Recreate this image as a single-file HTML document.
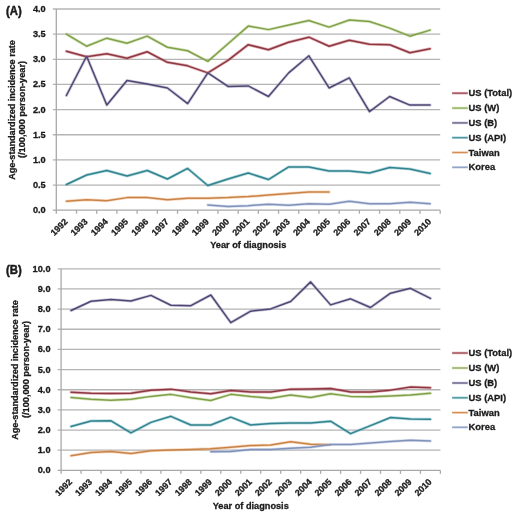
<!DOCTYPE html>
<html><head><meta charset="utf-8"><style>
html,body{margin:0;padding:0;background:#fff;width:520px;height:520px;overflow:hidden}
svg{display:block}
#w{width:520px;height:520px;will-change:transform}
text{stroke:#1a1a1a;stroke-width:0.3px;paint-order:stroke}
.t{font-family:"Liberation Sans",sans-serif;font-weight:bold;font-size:9.2px;fill:#1a1a1a}
.lab{stroke-width:0.45px;font-family:"Liberation Sans",sans-serif;font-weight:bold;font-size:11.3px;fill:#1a1a1a}
</style></head><body>
<div id="w"><svg width="520" height="520" viewBox="0 0 520 520">
<rect width="520" height="520" fill="#fff"/>
<line x1="52.80" y1="185.05" x2="440.20" y2="185.05" stroke="#B4B4B4" stroke-width="1.3"/>
<line x1="52.80" y1="159.90" x2="440.20" y2="159.90" stroke="#B4B4B4" stroke-width="1.3"/>
<line x1="52.80" y1="134.75" x2="440.20" y2="134.75" stroke="#B4B4B4" stroke-width="1.3"/>
<line x1="52.80" y1="109.60" x2="440.20" y2="109.60" stroke="#B4B4B4" stroke-width="1.3"/>
<line x1="52.80" y1="84.45" x2="440.20" y2="84.45" stroke="#B4B4B4" stroke-width="1.3"/>
<line x1="52.80" y1="59.30" x2="440.20" y2="59.30" stroke="#B4B4B4" stroke-width="1.3"/>
<line x1="52.80" y1="34.15" x2="440.20" y2="34.15" stroke="#B4B4B4" stroke-width="1.3"/>
<line x1="52.80" y1="9.00" x2="440.20" y2="9.00" stroke="#B4B4B4" stroke-width="1.3"/>
<line x1="56.30" y1="9.00" x2="56.30" y2="213.70" stroke="#A8A8A8" stroke-width="1.3"/>
<line x1="52.80" y1="210.20" x2="440.20" y2="210.20" stroke="#A8A8A8" stroke-width="1.3"/>
<line x1="76.51" y1="210.20" x2="76.51" y2="213.70" stroke="#A8A8A8" stroke-width="1.3"/>
<line x1="96.71" y1="210.20" x2="96.71" y2="213.70" stroke="#A8A8A8" stroke-width="1.3"/>
<line x1="116.92" y1="210.20" x2="116.92" y2="213.70" stroke="#A8A8A8" stroke-width="1.3"/>
<line x1="137.12" y1="210.20" x2="137.12" y2="213.70" stroke="#A8A8A8" stroke-width="1.3"/>
<line x1="157.33" y1="210.20" x2="157.33" y2="213.70" stroke="#A8A8A8" stroke-width="1.3"/>
<line x1="177.53" y1="210.20" x2="177.53" y2="213.70" stroke="#A8A8A8" stroke-width="1.3"/>
<line x1="197.74" y1="210.20" x2="197.74" y2="213.70" stroke="#A8A8A8" stroke-width="1.3"/>
<line x1="217.94" y1="210.20" x2="217.94" y2="213.70" stroke="#A8A8A8" stroke-width="1.3"/>
<line x1="238.15" y1="210.20" x2="238.15" y2="213.70" stroke="#A8A8A8" stroke-width="1.3"/>
<line x1="258.35" y1="210.20" x2="258.35" y2="213.70" stroke="#A8A8A8" stroke-width="1.3"/>
<line x1="278.56" y1="210.20" x2="278.56" y2="213.70" stroke="#A8A8A8" stroke-width="1.3"/>
<line x1="298.76" y1="210.20" x2="298.76" y2="213.70" stroke="#A8A8A8" stroke-width="1.3"/>
<line x1="318.97" y1="210.20" x2="318.97" y2="213.70" stroke="#A8A8A8" stroke-width="1.3"/>
<line x1="339.17" y1="210.20" x2="339.17" y2="213.70" stroke="#A8A8A8" stroke-width="1.3"/>
<line x1="359.38" y1="210.20" x2="359.38" y2="213.70" stroke="#A8A8A8" stroke-width="1.3"/>
<line x1="379.58" y1="210.20" x2="379.58" y2="213.70" stroke="#A8A8A8" stroke-width="1.3"/>
<line x1="399.79" y1="210.20" x2="399.79" y2="213.70" stroke="#A8A8A8" stroke-width="1.3"/>
<line x1="419.99" y1="210.20" x2="419.99" y2="213.70" stroke="#A8A8A8" stroke-width="1.3"/>
<line x1="440.20" y1="210.20" x2="440.20" y2="213.70" stroke="#A8A8A8" stroke-width="1.3"/>
<text x="45.70" y="213.20" text-anchor="end" class="t">0.0</text>
<text x="45.70" y="188.05" text-anchor="end" class="t">0.5</text>
<text x="45.70" y="162.90" text-anchor="end" class="t">1.0</text>
<text x="45.70" y="137.75" text-anchor="end" class="t">1.5</text>
<text x="45.70" y="112.60" text-anchor="end" class="t">2.0</text>
<text x="45.70" y="87.45" text-anchor="end" class="t">2.5</text>
<text x="45.70" y="62.30" text-anchor="end" class="t">3.0</text>
<text x="45.70" y="37.15" text-anchor="end" class="t">3.5</text>
<text x="45.70" y="12.00" text-anchor="end" class="t">4.0</text>
<text transform="translate(63.60,217.80) rotate(-45)" x="0" y="6.4" text-anchor="end" class="t" style="font-size:8.9px">1992</text>
<text transform="translate(83.81,217.80) rotate(-45)" x="0" y="6.4" text-anchor="end" class="t" style="font-size:8.9px">1993</text>
<text transform="translate(104.01,217.80) rotate(-45)" x="0" y="6.4" text-anchor="end" class="t" style="font-size:8.9px">1994</text>
<text transform="translate(124.22,217.80) rotate(-45)" x="0" y="6.4" text-anchor="end" class="t" style="font-size:8.9px">1995</text>
<text transform="translate(144.42,217.80) rotate(-45)" x="0" y="6.4" text-anchor="end" class="t" style="font-size:8.9px">1996</text>
<text transform="translate(164.63,217.80) rotate(-45)" x="0" y="6.4" text-anchor="end" class="t" style="font-size:8.9px">1997</text>
<text transform="translate(184.83,217.80) rotate(-45)" x="0" y="6.4" text-anchor="end" class="t" style="font-size:8.9px">1998</text>
<text transform="translate(205.04,217.80) rotate(-45)" x="0" y="6.4" text-anchor="end" class="t" style="font-size:8.9px">1999</text>
<text transform="translate(225.24,217.80) rotate(-45)" x="0" y="6.4" text-anchor="end" class="t" style="font-size:8.9px">2000</text>
<text transform="translate(245.45,217.80) rotate(-45)" x="0" y="6.4" text-anchor="end" class="t" style="font-size:8.9px">2001</text>
<text transform="translate(265.66,217.80) rotate(-45)" x="0" y="6.4" text-anchor="end" class="t" style="font-size:8.9px">2002</text>
<text transform="translate(285.86,217.80) rotate(-45)" x="0" y="6.4" text-anchor="end" class="t" style="font-size:8.9px">2003</text>
<text transform="translate(306.07,217.80) rotate(-45)" x="0" y="6.4" text-anchor="end" class="t" style="font-size:8.9px">2004</text>
<text transform="translate(326.27,217.80) rotate(-45)" x="0" y="6.4" text-anchor="end" class="t" style="font-size:8.9px">2005</text>
<text transform="translate(346.48,217.80) rotate(-45)" x="0" y="6.4" text-anchor="end" class="t" style="font-size:8.9px">2006</text>
<text transform="translate(366.68,217.80) rotate(-45)" x="0" y="6.4" text-anchor="end" class="t" style="font-size:8.9px">2007</text>
<text transform="translate(386.89,217.80) rotate(-45)" x="0" y="6.4" text-anchor="end" class="t" style="font-size:8.9px">2008</text>
<text transform="translate(407.09,217.80) rotate(-45)" x="0" y="6.4" text-anchor="end" class="t" style="font-size:8.9px">2009</text>
<text transform="translate(427.30,217.80) rotate(-45)" x="0" y="6.4" text-anchor="end" class="t" style="font-size:8.9px">2010</text>
<polyline points="66.40,51.25 86.61,56.78 106.81,53.77 127.02,58.29 147.22,51.75 167.43,62.32 187.63,65.84 207.84,72.88 228.04,60.31 248.25,44.71 268.46,49.74 288.66,42.20 308.87,37.17 329.07,46.22 349.28,40.19 369.48,44.21 389.69,44.71 409.89,52.76 430.10,48.74" fill="none" stroke="#C8606A" stroke-opacity="0.45" stroke-width="3.0" stroke-linejoin="round" stroke-linecap="round"/>
<polyline points="66.40,51.25 86.61,56.78 106.81,53.77 127.02,58.29 147.22,51.75 167.43,62.32 187.63,65.84 207.84,72.88 228.04,60.31 248.25,44.71 268.46,49.74 288.66,42.20 308.87,37.17 329.07,46.22 349.28,40.19 369.48,44.21 389.69,44.71 409.89,52.76 430.10,48.74" fill="none" stroke="#8C3842" stroke-width="1.5" stroke-linejoin="round" stroke-linecap="round"/>
<polyline points="66.40,34.15 86.61,46.22 106.81,38.17 127.02,43.20 147.22,36.16 167.43,47.23 187.63,50.75 207.84,61.31 228.04,43.71 248.25,26.10 268.46,29.62 288.66,25.10 308.87,20.57 329.07,27.11 349.28,20.07 369.48,21.57 389.69,28.11 409.89,36.16 430.10,30.13" fill="none" stroke="#A8C870" stroke-opacity="0.45" stroke-width="3.0" stroke-linejoin="round" stroke-linecap="round"/>
<polyline points="66.40,34.15 86.61,46.22 106.81,38.17 127.02,43.20 147.22,36.16 167.43,47.23 187.63,50.75 207.84,61.31 228.04,43.71 248.25,26.10 268.46,29.62 288.66,25.10 308.87,20.57 329.07,27.11 349.28,20.07 369.48,21.57 389.69,28.11 409.89,36.16 430.10,30.13" fill="none" stroke="#80A04C" stroke-width="1.5" stroke-linejoin="round" stroke-linecap="round"/>
<polyline points="66.40,95.52 86.61,56.28 106.81,105.07 127.02,80.43 147.22,83.95 167.43,87.97 187.63,103.56 207.84,72.88 228.04,86.46 248.25,85.96 268.46,96.52 288.66,72.88 308.87,55.78 329.07,87.97 349.28,77.91 369.48,111.61 389.69,96.52 409.89,105.07 430.10,105.07" fill="none" stroke="#9890B4" stroke-opacity="0.45" stroke-width="3.0" stroke-linejoin="round" stroke-linecap="round"/>
<polyline points="66.40,95.52 86.61,56.28 106.81,105.07 127.02,80.43 147.22,83.95 167.43,87.97 187.63,103.56 207.84,72.88 228.04,86.46 248.25,85.96 268.46,96.52 288.66,72.88 308.87,55.78 329.07,87.97 349.28,77.91 369.48,111.61 389.69,96.52 409.89,105.07 430.10,105.07" fill="none" stroke="#504674" stroke-width="1.5" stroke-linejoin="round" stroke-linecap="round"/>
<polyline points="66.40,184.55 86.61,174.99 106.81,170.46 127.02,176.00 147.22,170.46 167.43,179.01 187.63,168.45 207.84,185.55 228.04,179.01 248.25,172.98 268.46,179.52 288.66,166.94 308.87,166.94 329.07,170.97 349.28,170.97 369.48,172.98 389.69,167.44 409.89,168.95 430.10,173.48" fill="none" stroke="#60B0C0" stroke-opacity="0.45" stroke-width="3.0" stroke-linejoin="round" stroke-linecap="round"/>
<polyline points="66.40,184.55 86.61,174.99 106.81,170.46 127.02,176.00 147.22,170.46 167.43,179.01 187.63,168.45 207.84,185.55 228.04,179.01 248.25,172.98 268.46,179.52 288.66,166.94 308.87,166.94 329.07,170.97 349.28,170.97 369.48,172.98 389.69,167.44 409.89,168.95 430.10,173.48" fill="none" stroke="#33838C" stroke-width="1.5" stroke-linejoin="round" stroke-linecap="round"/>
<polyline points="66.40,201.15 86.61,199.64 106.81,200.64 127.02,197.62 147.22,197.62 167.43,199.64 187.63,198.13 207.84,198.13 228.04,197.62 248.25,196.62 268.46,195.11 288.66,193.60 308.87,192.09 329.07,192.09" fill="none" stroke="#F0A870" stroke-opacity="0.45" stroke-width="3.0" stroke-linejoin="round" stroke-linecap="round"/>
<polyline points="66.40,201.15 86.61,199.64 106.81,200.64 127.02,197.62 147.22,197.62 167.43,199.64 187.63,198.13 207.84,198.13 228.04,197.62 248.25,196.62 268.46,195.11 288.66,193.60 308.87,192.09 329.07,192.09" fill="none" stroke="#C88448" stroke-width="1.5" stroke-linejoin="round" stroke-linecap="round"/>
<polyline points="207.84,204.92 228.04,206.43 248.25,205.67 268.46,204.16 288.66,205.17 308.87,203.66 329.07,204.16 349.28,201.15 369.48,203.66 389.69,203.66 409.89,202.15 430.10,203.66" fill="none" stroke="#A8B8E0" stroke-opacity="0.45" stroke-width="3.0" stroke-linejoin="round" stroke-linecap="round"/>
<polyline points="207.84,204.92 228.04,206.43 248.25,205.67 268.46,204.16 288.66,205.17 308.87,203.66 329.07,204.16 349.28,201.15 369.48,203.66 389.69,203.66 409.89,202.15 430.10,203.66" fill="none" stroke="#8092B8" stroke-width="1.5" stroke-linejoin="round" stroke-linecap="round"/>
<line x1="452" y1="93.20" x2="467.9" y2="93.20" stroke="#C8606A" stroke-opacity="0.5" stroke-width="2.6"/>
<line x1="452.3" y1="93.20" x2="467.6" y2="93.20" stroke="#8C3842" stroke-opacity="0.85" stroke-width="1.2"/>
<text x="468.6" y="96.20" class="t" style="font-size:9.4px">US (Total)</text>
<line x1="452" y1="108.10" x2="467.9" y2="108.10" stroke="#A8C870" stroke-opacity="0.5" stroke-width="2.6"/>
<line x1="452.3" y1="108.10" x2="467.6" y2="108.10" stroke="#80A04C" stroke-opacity="0.85" stroke-width="1.2"/>
<text x="468.6" y="111.10" class="t" style="font-size:9.4px">US (W)</text>
<line x1="452" y1="122.90" x2="467.9" y2="122.90" stroke="#9890B4" stroke-opacity="0.5" stroke-width="2.6"/>
<line x1="452.3" y1="122.90" x2="467.6" y2="122.90" stroke="#504674" stroke-opacity="0.85" stroke-width="1.2"/>
<text x="468.6" y="125.90" class="t" style="font-size:9.4px">US (B)</text>
<line x1="452" y1="137.70" x2="467.9" y2="137.70" stroke="#60B0C0" stroke-opacity="0.5" stroke-width="2.6"/>
<line x1="452.3" y1="137.70" x2="467.6" y2="137.70" stroke="#33838C" stroke-opacity="0.85" stroke-width="1.2"/>
<text x="468.6" y="140.70" class="t" style="font-size:9.4px">US (API)</text>
<line x1="452" y1="152.50" x2="467.9" y2="152.50" stroke="#F0A870" stroke-opacity="0.5" stroke-width="2.6"/>
<line x1="452.3" y1="152.50" x2="467.6" y2="152.50" stroke="#C88448" stroke-opacity="0.85" stroke-width="1.2"/>
<text x="468.6" y="155.50" class="t" style="font-size:9.4px">Taiwan</text>
<line x1="452" y1="167.30" x2="467.9" y2="167.30" stroke="#A8B8E0" stroke-opacity="0.5" stroke-width="2.6"/>
<line x1="452.3" y1="167.30" x2="467.6" y2="167.30" stroke="#8092B8" stroke-opacity="0.85" stroke-width="1.2"/>
<text x="468.6" y="170.30" class="t" style="font-size:9.4px">Korea</text>
<text transform="translate(6,15.0) scale(1,1.06)" class="lab">(A)</text>
<text transform="translate(14.60,110.00) rotate(-90)" text-anchor="middle" class="t" textLength="139.6" lengthAdjust="spacingAndGlyphs">Age-standardized incidence rate</text>
<text transform="translate(25.20,109.50) rotate(-90)" text-anchor="middle" class="t">(/100,000 person-year)</text>
<text x="248.25" y="248.00" text-anchor="middle" class="t">Year of diagnosis</text>
<line x1="57.60" y1="450.20" x2="440.40" y2="450.20" stroke="#B4B4B4" stroke-width="1.3"/>
<line x1="57.60" y1="430.04" x2="440.40" y2="430.04" stroke="#B4B4B4" stroke-width="1.3"/>
<line x1="57.60" y1="409.88" x2="440.40" y2="409.88" stroke="#B4B4B4" stroke-width="1.3"/>
<line x1="57.60" y1="389.73" x2="440.40" y2="389.73" stroke="#B4B4B4" stroke-width="1.3"/>
<line x1="57.60" y1="369.58" x2="440.40" y2="369.58" stroke="#B4B4B4" stroke-width="1.3"/>
<line x1="57.60" y1="349.42" x2="440.40" y2="349.42" stroke="#B4B4B4" stroke-width="1.3"/>
<line x1="57.60" y1="329.26" x2="440.40" y2="329.26" stroke="#B4B4B4" stroke-width="1.3"/>
<line x1="57.60" y1="309.11" x2="440.40" y2="309.11" stroke="#B4B4B4" stroke-width="1.3"/>
<line x1="57.60" y1="288.96" x2="440.40" y2="288.96" stroke="#B4B4B4" stroke-width="1.3"/>
<line x1="57.60" y1="268.80" x2="440.40" y2="268.80" stroke="#B4B4B4" stroke-width="1.3"/>
<line x1="61.10" y1="268.80" x2="61.10" y2="473.85" stroke="#A8A8A8" stroke-width="1.3"/>
<line x1="57.60" y1="470.35" x2="440.40" y2="470.35" stroke="#A8A8A8" stroke-width="1.3"/>
<line x1="81.06" y1="470.35" x2="81.06" y2="473.85" stroke="#A8A8A8" stroke-width="1.3"/>
<line x1="101.03" y1="470.35" x2="101.03" y2="473.85" stroke="#A8A8A8" stroke-width="1.3"/>
<line x1="120.99" y1="470.35" x2="120.99" y2="473.85" stroke="#A8A8A8" stroke-width="1.3"/>
<line x1="140.95" y1="470.35" x2="140.95" y2="473.85" stroke="#A8A8A8" stroke-width="1.3"/>
<line x1="160.92" y1="470.35" x2="160.92" y2="473.85" stroke="#A8A8A8" stroke-width="1.3"/>
<line x1="180.88" y1="470.35" x2="180.88" y2="473.85" stroke="#A8A8A8" stroke-width="1.3"/>
<line x1="200.84" y1="470.35" x2="200.84" y2="473.85" stroke="#A8A8A8" stroke-width="1.3"/>
<line x1="220.81" y1="470.35" x2="220.81" y2="473.85" stroke="#A8A8A8" stroke-width="1.3"/>
<line x1="240.77" y1="470.35" x2="240.77" y2="473.85" stroke="#A8A8A8" stroke-width="1.3"/>
<line x1="260.73" y1="470.35" x2="260.73" y2="473.85" stroke="#A8A8A8" stroke-width="1.3"/>
<line x1="280.69" y1="470.35" x2="280.69" y2="473.85" stroke="#A8A8A8" stroke-width="1.3"/>
<line x1="300.66" y1="470.35" x2="300.66" y2="473.85" stroke="#A8A8A8" stroke-width="1.3"/>
<line x1="320.62" y1="470.35" x2="320.62" y2="473.85" stroke="#A8A8A8" stroke-width="1.3"/>
<line x1="340.58" y1="470.35" x2="340.58" y2="473.85" stroke="#A8A8A8" stroke-width="1.3"/>
<line x1="360.55" y1="470.35" x2="360.55" y2="473.85" stroke="#A8A8A8" stroke-width="1.3"/>
<line x1="380.51" y1="470.35" x2="380.51" y2="473.85" stroke="#A8A8A8" stroke-width="1.3"/>
<line x1="400.47" y1="470.35" x2="400.47" y2="473.85" stroke="#A8A8A8" stroke-width="1.3"/>
<line x1="420.44" y1="470.35" x2="420.44" y2="473.85" stroke="#A8A8A8" stroke-width="1.3"/>
<line x1="440.40" y1="470.35" x2="440.40" y2="473.85" stroke="#A8A8A8" stroke-width="1.3"/>
<text x="50.50" y="473.35" text-anchor="end" class="t">0.0</text>
<text x="50.50" y="453.20" text-anchor="end" class="t">1.0</text>
<text x="50.50" y="433.04" text-anchor="end" class="t">2.0</text>
<text x="50.50" y="412.88" text-anchor="end" class="t">3.0</text>
<text x="50.50" y="392.73" text-anchor="end" class="t">4.0</text>
<text x="50.50" y="372.58" text-anchor="end" class="t">5.0</text>
<text x="50.50" y="352.42" text-anchor="end" class="t">6.0</text>
<text x="50.50" y="332.26" text-anchor="end" class="t">7.0</text>
<text x="50.50" y="312.11" text-anchor="end" class="t">8.0</text>
<text x="50.50" y="291.96" text-anchor="end" class="t">9.0</text>
<text x="50.50" y="271.80" text-anchor="end" class="t">10.0</text>
<text transform="translate(68.28,477.95) rotate(-45)" x="0" y="6.4" text-anchor="end" class="t" style="font-size:8.9px">1992</text>
<text transform="translate(88.24,477.95) rotate(-45)" x="0" y="6.4" text-anchor="end" class="t" style="font-size:8.9px">1993</text>
<text transform="translate(108.21,477.95) rotate(-45)" x="0" y="6.4" text-anchor="end" class="t" style="font-size:8.9px">1994</text>
<text transform="translate(128.17,477.95) rotate(-45)" x="0" y="6.4" text-anchor="end" class="t" style="font-size:8.9px">1995</text>
<text transform="translate(148.13,477.95) rotate(-45)" x="0" y="6.4" text-anchor="end" class="t" style="font-size:8.9px">1996</text>
<text transform="translate(168.10,477.95) rotate(-45)" x="0" y="6.4" text-anchor="end" class="t" style="font-size:8.9px">1997</text>
<text transform="translate(188.06,477.95) rotate(-45)" x="0" y="6.4" text-anchor="end" class="t" style="font-size:8.9px">1998</text>
<text transform="translate(208.02,477.95) rotate(-45)" x="0" y="6.4" text-anchor="end" class="t" style="font-size:8.9px">1999</text>
<text transform="translate(227.99,477.95) rotate(-45)" x="0" y="6.4" text-anchor="end" class="t" style="font-size:8.9px">2000</text>
<text transform="translate(247.95,477.95) rotate(-45)" x="0" y="6.4" text-anchor="end" class="t" style="font-size:8.9px">2001</text>
<text transform="translate(267.91,477.95) rotate(-45)" x="0" y="6.4" text-anchor="end" class="t" style="font-size:8.9px">2002</text>
<text transform="translate(287.88,477.95) rotate(-45)" x="0" y="6.4" text-anchor="end" class="t" style="font-size:8.9px">2003</text>
<text transform="translate(307.84,477.95) rotate(-45)" x="0" y="6.4" text-anchor="end" class="t" style="font-size:8.9px">2004</text>
<text transform="translate(327.80,477.95) rotate(-45)" x="0" y="6.4" text-anchor="end" class="t" style="font-size:8.9px">2005</text>
<text transform="translate(347.77,477.95) rotate(-45)" x="0" y="6.4" text-anchor="end" class="t" style="font-size:8.9px">2006</text>
<text transform="translate(367.73,477.95) rotate(-45)" x="0" y="6.4" text-anchor="end" class="t" style="font-size:8.9px">2007</text>
<text transform="translate(387.69,477.95) rotate(-45)" x="0" y="6.4" text-anchor="end" class="t" style="font-size:8.9px">2008</text>
<text transform="translate(407.66,477.95) rotate(-45)" x="0" y="6.4" text-anchor="end" class="t" style="font-size:8.9px">2009</text>
<text transform="translate(427.62,477.95) rotate(-45)" x="0" y="6.4" text-anchor="end" class="t" style="font-size:8.9px">2010</text>
<polyline points="71.08,392.15 91.04,393.36 111.01,393.56 130.97,393.16 150.93,390.33 170.90,389.13 190.86,391.95 210.82,393.76 230.79,390.54 250.75,391.95 270.71,391.95 290.68,389.13 310.64,388.92 330.60,388.52 350.57,391.95 370.53,391.95 390.49,390.13 410.46,387.11 430.42,387.71" fill="none" stroke="#C8606A" stroke-opacity="0.45" stroke-width="3.0" stroke-linejoin="round" stroke-linecap="round"/>
<polyline points="71.08,392.15 91.04,393.36 111.01,393.56 130.97,393.16 150.93,390.33 170.90,389.13 190.86,391.95 210.82,393.76 230.79,390.54 250.75,391.95 270.71,391.95 290.68,389.13 310.64,388.92 330.60,388.52 350.57,391.95 370.53,391.95 390.49,390.13 410.46,387.11 430.42,387.71" fill="none" stroke="#8C3842" stroke-width="1.5" stroke-linejoin="round" stroke-linecap="round"/>
<polyline points="71.08,397.39 91.04,399.20 111.01,400.21 130.97,399.20 150.93,396.38 170.90,394.37 190.86,397.79 210.82,400.41 230.79,394.37 250.75,396.58 270.71,398.20 290.68,394.97 310.64,397.59 330.60,393.76 350.57,396.38 370.53,396.78 390.49,395.98 410.46,394.97 430.42,393.36" fill="none" stroke="#A8C870" stroke-opacity="0.45" stroke-width="3.0" stroke-linejoin="round" stroke-linecap="round"/>
<polyline points="71.08,397.39 91.04,399.20 111.01,400.21 130.97,399.20 150.93,396.38 170.90,394.37 190.86,397.79 210.82,400.41 230.79,394.37 250.75,396.58 270.71,398.20 290.68,394.97 310.64,397.59 330.60,393.76 350.57,396.38 370.53,396.78 390.49,395.98 410.46,394.97 430.42,393.36" fill="none" stroke="#80A04C" stroke-width="1.5" stroke-linejoin="round" stroke-linecap="round"/>
<polyline points="71.08,310.52 91.04,301.25 111.01,299.44 130.97,301.05 150.93,295.40 170.90,305.28 190.86,305.68 210.82,295.00 230.79,322.61 250.75,311.13 270.71,308.91 290.68,301.45 310.64,281.90 330.60,304.88 350.57,298.83 370.53,307.50 390.49,293.19 410.46,288.35 430.42,298.43" fill="none" stroke="#9890B4" stroke-opacity="0.45" stroke-width="3.0" stroke-linejoin="round" stroke-linecap="round"/>
<polyline points="71.08,310.52 91.04,301.25 111.01,299.44 130.97,301.05 150.93,295.40 170.90,305.28 190.86,305.68 210.82,295.00 230.79,322.61 250.75,311.13 270.71,308.91 290.68,301.45 310.64,281.90 330.60,304.88 350.57,298.83 370.53,307.50 390.49,293.19 410.46,288.35 430.42,298.43" fill="none" stroke="#504674" stroke-width="1.5" stroke-linejoin="round" stroke-linecap="round"/>
<polyline points="71.08,426.41 91.04,420.97 111.01,420.77 130.97,432.86 150.93,422.38 170.90,416.33 190.86,425.00 210.82,425.00 230.79,417.14 250.75,425.00 270.71,423.39 290.68,422.99 310.64,422.99 330.60,421.17 350.57,433.67 370.53,425.61 390.49,417.54 410.46,418.95 430.42,419.36" fill="none" stroke="#60B0C0" stroke-opacity="0.45" stroke-width="3.0" stroke-linejoin="round" stroke-linecap="round"/>
<polyline points="71.08,426.41 91.04,420.97 111.01,420.77 130.97,432.86 150.93,422.38 170.90,416.33 190.86,425.00 210.82,425.00 230.79,417.14 250.75,425.00 270.71,423.39 290.68,422.99 310.64,422.99 330.60,421.17 350.57,433.67 370.53,425.61 390.49,417.54 410.46,418.95 430.42,419.36" fill="none" stroke="#33838C" stroke-width="1.5" stroke-linejoin="round" stroke-linecap="round"/>
<polyline points="71.08,455.64 91.04,452.41 111.01,451.61 130.97,453.42 150.93,450.80 170.90,449.99 190.86,449.39 210.82,448.78 230.79,447.37 250.75,445.56 270.71,444.95 290.68,441.73 310.64,444.15 330.60,444.75" fill="none" stroke="#F0A870" stroke-opacity="0.45" stroke-width="3.0" stroke-linejoin="round" stroke-linecap="round"/>
<polyline points="71.08,455.64 91.04,452.41 111.01,451.61 130.97,453.42 150.93,450.80 170.90,449.99 190.86,449.39 210.82,448.78 230.79,447.37 250.75,445.56 270.71,444.95 290.68,441.73 310.64,444.15 330.60,444.75" fill="none" stroke="#C88448" stroke-width="1.5" stroke-linejoin="round" stroke-linecap="round"/>
<polyline points="210.82,451.81 230.79,451.40 250.75,449.39 270.71,449.39 290.68,448.18 310.64,447.17 330.60,444.55 350.57,444.55 370.53,442.94 390.49,441.53 410.46,440.32 430.42,440.92" fill="none" stroke="#A8B8E0" stroke-opacity="0.45" stroke-width="3.0" stroke-linejoin="round" stroke-linecap="round"/>
<polyline points="210.82,451.81 230.79,451.40 250.75,449.39 270.71,449.39 290.68,448.18 310.64,447.17 330.60,444.55 350.57,444.55 370.53,442.94 390.49,441.53 410.46,440.32 430.42,440.92" fill="none" stroke="#8092B8" stroke-width="1.5" stroke-linejoin="round" stroke-linecap="round"/>
<line x1="452" y1="353.00" x2="467.9" y2="353.00" stroke="#C8606A" stroke-opacity="0.5" stroke-width="2.6"/>
<line x1="452.3" y1="353.00" x2="467.6" y2="353.00" stroke="#8C3842" stroke-opacity="0.85" stroke-width="1.2"/>
<text x="468.6" y="356.00" class="t" style="font-size:9.4px">US (Total)</text>
<line x1="452" y1="368.00" x2="467.9" y2="368.00" stroke="#A8C870" stroke-opacity="0.5" stroke-width="2.6"/>
<line x1="452.3" y1="368.00" x2="467.6" y2="368.00" stroke="#80A04C" stroke-opacity="0.85" stroke-width="1.2"/>
<text x="468.6" y="371.00" class="t" style="font-size:9.4px">US (W)</text>
<line x1="452" y1="383.00" x2="467.9" y2="383.00" stroke="#9890B4" stroke-opacity="0.5" stroke-width="2.6"/>
<line x1="452.3" y1="383.00" x2="467.6" y2="383.00" stroke="#504674" stroke-opacity="0.85" stroke-width="1.2"/>
<text x="468.6" y="386.00" class="t" style="font-size:9.4px">US (B)</text>
<line x1="452" y1="397.80" x2="467.9" y2="397.80" stroke="#60B0C0" stroke-opacity="0.5" stroke-width="2.6"/>
<line x1="452.3" y1="397.80" x2="467.6" y2="397.80" stroke="#33838C" stroke-opacity="0.85" stroke-width="1.2"/>
<text x="468.6" y="400.80" class="t" style="font-size:9.4px">US (API)</text>
<line x1="452" y1="412.60" x2="467.9" y2="412.60" stroke="#F0A870" stroke-opacity="0.5" stroke-width="2.6"/>
<line x1="452.3" y1="412.60" x2="467.6" y2="412.60" stroke="#C88448" stroke-opacity="0.85" stroke-width="1.2"/>
<text x="468.6" y="415.60" class="t" style="font-size:9.4px">Taiwan</text>
<line x1="452" y1="427.30" x2="467.9" y2="427.30" stroke="#A8B8E0" stroke-opacity="0.5" stroke-width="2.6"/>
<line x1="452.3" y1="427.30" x2="467.6" y2="427.30" stroke="#8092B8" stroke-opacity="0.85" stroke-width="1.2"/>
<text x="468.6" y="430.30" class="t" style="font-size:9.4px">Korea</text>
<text transform="translate(6,274.4) scale(1,1.06)" class="lab">(B)</text>
<text transform="translate(17.90,370.00) rotate(-90)" text-anchor="middle" class="t" textLength="139.6" lengthAdjust="spacingAndGlyphs">Age-standardized incidence rate</text>
<text transform="translate(29.00,369.50) rotate(-90)" text-anchor="middle" class="t">(/100,000 person-year)</text>
<text x="250.75" y="508.60" text-anchor="middle" class="t">Year of diagnosis</text>
</svg></div>
</body></html>
